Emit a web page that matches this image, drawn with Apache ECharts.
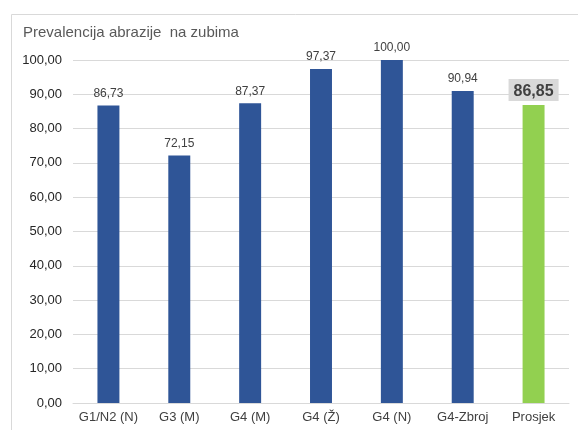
<!DOCTYPE html>
<html><head><meta charset="utf-8">
<script src="https://cdn.jsdelivr.net/npm/echarts@6/dist/echarts.min.js"></script>
<style>html,body{margin:0;padding:0;background:#fff}#c{width:578px;height:430px}</style>
</head><body><div id="c"></div>
<script>
const titleText = 'Prevalencija abrazije  na zubima';
const categories = ['G1/N2 (N)', 'G3 (M)', 'G4 (M)', 'G4 (Ž)', 'G4 (N)', 'G4-Zbroj', 'Prosjek'];
const values = [86.73, 72.15, 87.37, 97.37, 100.00, 90.94, 86.85];
const highlightIndex = 6;
const yMin = 0, yMax = 100, yStep = 10;

const fmt = v => v.toFixed(2).replace('.', ',');
const chart = echarts.init(document.getElementById('c'), null, {renderer: 'canvas'});
const font = 'Liberation Sans, Arial, sans-serif';
chart.setOption({
  animation: false,
  graphic: [{type: 'rect', shape: {x: 11.5, y: 14.5, width: 580, height: 430}, style: {fill: 'none', stroke: '#d9d9d9', lineWidth: 1}}],
  title: {text: titleText, left: 18, top: 20, textStyle: {fontFamily: font, fontSize: 15, fontWeight: 'normal', color: '#595959'}},
  grid: {left: 73, right: 9, top: 60, bottom: 27},
  xAxis: {type: 'category', data: categories,
    axisLine: {lineStyle: {color: '#d9d9d9'}}, axisTick: {show: false},
    axisLabel: {interval: 0, fontFamily: font, fontSize: 13, color: '#404040', margin: 8}},
  yAxis: {type: 'value', min: yMin, max: yMax, interval: yStep,
    axisLine: {show: false}, axisTick: {show: false},
    splitLine: {lineStyle: {color: '#d9d9d9'}},
    axisLabel: {fontFamily: font, fontSize: 13, color: '#262626', margin: 11, formatter: v => fmt(v)}},
  series: [{type: 'bar', barWidth: '31%',
    data: values.map((v, i) => i === highlightIndex ? {
      value: v, itemStyle: {color: '#92D050'},
      label: {fontSize: 16, fontWeight: 'bold', color: '#404040', backgroundColor: '#d9d9d9', padding: [4, 5, 2, 5], distance: 4}
    } : {value: v}),
    itemStyle: {color: '#2F5597'},
    label: {show: true, position: 'top', distance: 6, fontFamily: font, fontSize: 12, color: '#404040', formatter: p => fmt(p.value)}
  }]
});
</script></body></html>
